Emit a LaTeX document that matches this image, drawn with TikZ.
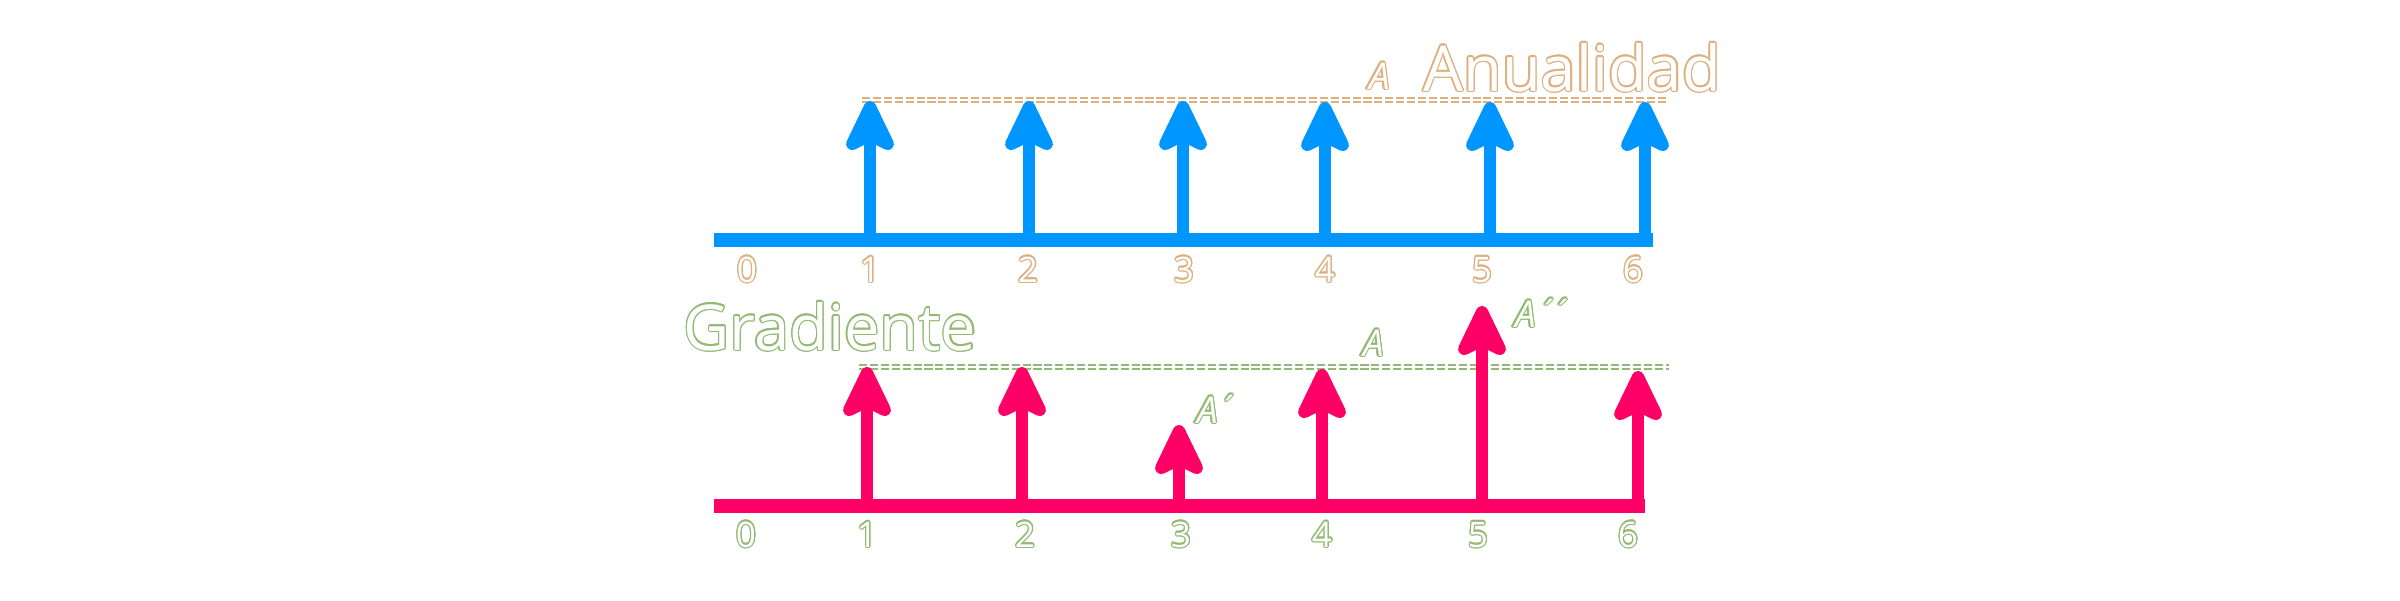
\documentclass[tikz,border=0pt]{standalone}
\usepackage{fontspec}
\setmainfont{Open Sans}
\usepackage[copies]{contour}
\usetikzlibrary{arrows.meta,positioning,calc}

\definecolor{flowBlue}{RGB}{0,150,255}
\definecolor{flowPink}{RGB}{255,0,102}
\definecolor{outlineTan}{RGB}{220,176,128}
\definecolor{outlineGreen}{RGB}{146,186,116}
\contourlength{0.35pt}

\begin{document}
\begin{tikzpicture}[x=0.01cm,y=-0.01cm,semithick]

\useasboundingbox (0,0) rectangle (2400,600);

\tikzset{
	timeAxis/.style={
		line width=4pt,
		line cap=butt
	}
}

\tikzset{
	flowArrow/.style={
		-{Stealth[length=18pt,width=17pt,inset=4pt,round]},
		line width=3.5pt
	}
}

\tikzset{
	levelLine/.style={
		draw=#1,
		line width=0.4pt,
		double=white,
		double distance=0.7pt,
		dash pattern=on 2.3pt off 0.8pt
	}
}

\tikzset{
	periodLabel/.style={
		inner sep=0pt,
		anchor=base,
		text=white,
		font=\fontsize{10}{12}\selectfont
	}
}

\tikzset{
	titleLabel/.style={
		inner sep=0pt,
		anchor=base,
		text=white,
		font=\fontsize{18}{20}\selectfont
	}
}

\tikzset{
	amountLabel/.style={
		inner sep=0pt,
		anchor=base west,
		text=white,
		font=\fontsize{10.5}{12}\selectfont\itshape
	}
}

% annuity
\coordinate (top0) at (714,240);
\coordinate (topEnd) at (1653,240);
\draw[timeAxis,flowBlue] (top0) -- (topEnd);

\foreach \i/\x/\h in {1/870/101,2/1029/101,3/1183/101,4/1325/102,5/1490/102,6/1645/102}{
	\coordinate (top\i) at (\x,240);
	\coordinate (topTip\i) at (\x,\h);
}

\coordinate (topLevelStart) at (862,100);
\coordinate (topLevelEnd) at (1668,100);
\draw[levelLine=outlineTan] (topLevelStart) -- (topLevelEnd);

\foreach \i in {1,...,6}
	\draw[flowArrow,flowBlue] (top\i) -- (topTip\i);

\foreach \i/\x in {0/747,1/870,2/1028,3/1184,4/1325,5/1482,6/1633}
	\node[periodLabel](topNum\i) at (\x,282) {\contour{outlineTan}{\i}};

\node[amountLabel](topA) at (1368,89) {\contour{outlineTan}{A}};
\node[titleLabel](annuity) at (1572,91) {\contour{outlineTan}{Anualidad}};

% gradient
\coordinate (bot0) at (714,506);
\coordinate (botEnd) at (1645,506);
\draw[timeAxis,flowPink] (bot0) -- (botEnd);

\foreach \i/\x/\h in {1/867/367,2/1022/367,3/1179/425,4/1322/369,5/1482/306,6/1638/371}{
	\coordinate (bot\i) at (\x,506);
	\coordinate (botTip\i) at (\x,\h);
}

\coordinate (botLevelStart) at (859,367);
\coordinate (botLevelEnd) at (1669,367);
\draw[levelLine=outlineGreen] (botLevelStart) -- (botLevelEnd);

\foreach \i in {1,...,6}
	\draw[flowArrow,flowPink] (bot\i) -- (botTip\i);

\foreach \i/\x in {0/746,1/867,2/1025,3/1181,4/1322,5/1478,6/1628}
	\node[periodLabel](botNum\i) at (\x,547) {\contour{outlineGreen}{\i}};

\node[titleLabel](gradient) at (830,350) {\contour{outlineGreen}{Gradiente}};
\node[amountLabel](botA) at (1362,356) {\contour{outlineGreen}{A}};
\node[amountLabel](botA1) at (1196,423) {\contour{outlineGreen}{A\kern1pt´}};
\node[amountLabel](botA2) at (1514,327) {\contour{outlineGreen}{A\kern1.5pt´\kern4pt´}};

\end{tikzpicture}
\end{document}
